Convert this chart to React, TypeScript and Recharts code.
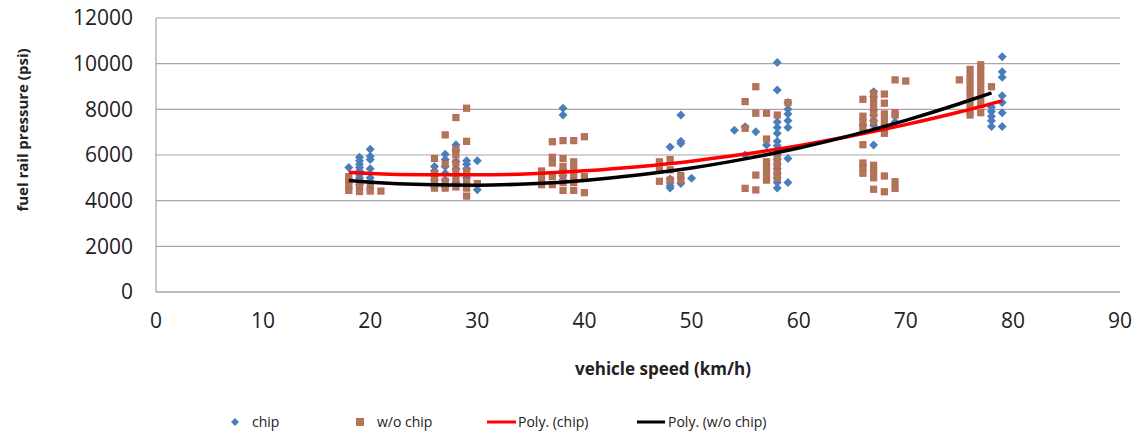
import { CartesianGrid, Legend, Scatter, ScatterChart, XAxis, YAxis } from 'recharts';

const FONT = '"Open Sans", "Liberation Sans", sans-serif';

const C = {
  chip: '#4A7EBB',
  sinChipRelleno: '#9E8052',
  sinChipBorde: '#C8605C',
  polyChip: '#FF0000',
  polySinChip: '#000000',
  grid: '#A6A6A6',
  texto: '#222222',
};

// speed (km/h) -> pressure readings (psi) at that speed
const chipPoints: [number, number[]][] = [
  [18, [5450]],
  [19, [5900, 5750, 5600, 5450, 5300, 5150, 5000, 4850, 4700]],
  [20, [6250, 5950, 5800, 5400, 5000, 4850]],
  [26, [5500, 5300, 5100, 4900, 4700, 4600]],
  [27, [6030, 5800, 5500, 5200, 4900, 4600]],
  [28, [6450, 6200, 5700, 5400, 5100, 4800]],
  [29, [5750, 5600, 5400, 5000, 4700]],
  [30, [5750, 4480]],
  [38, [8050, 7750, 5350, 5100, 4900]],
  [39, [5250]],
  [48, [6350, 4950, 4800, 4650, 4550]],
  [49, [7750, 6600, 6500, 4750]],
  [50, [4980]],
  [54, [7080]],
  [55, [7240, 6000]],
  [56, [7020]],
  [57, [6440]],
  [58, [10050, 8850, 7450, 7200, 6950, 6600, 6400, 6200, 6000, 5800, 5600, 5400, 5200, 5000, 4800, 4550]],
  [59, [8300, 8000, 7800, 7500, 7200, 5850, 4800]],
  [66, [7300]],
  [67, [8770, 8560, 7970, 7750, 7500, 7300, 6440]],
  [69, [7450]],
  [78, [8100, 7900, 7700, 7500, 7250]],
  [79, [10300, 9650, 9400, 8600, 8300, 7850, 7250]],
];

const noChipPoints: [number, number[]][] = [
  [18, [5050, 4850, 4650, 4450]],
  [19, [4800, 4600, 4400]],
  [20, [4610, 4420]],
  [21, [4420]],
  [26, [5850, 5200, 4900, 4550]],
  [27, [6880, 5600, 4850, 4550]],
  [28, [7640, 6250, 6000, 5650, 5300, 4950, 4600]],
  [29, [8050, 6600, 5300, 4850, 4550, 4200]],
  [30, [4750]],
  [36, [5300, 5000, 4700]],
  [37, [6580, 5900, 5650, 5050, 4700]],
  [38, [6630, 5850, 5500, 5150, 4800, 4450]],
  [39, [6630, 5700, 5400, 5100, 4800, 4450]],
  [40, [6800, 5050, 4350]],
  [47, [5700, 5350, 4850]],
  [48, [5800, 5350, 4900]],
  [49, [5100, 4900]],
  [55, [8340, 7170, 4540]],
  [56, [8990, 7830, 5120, 4470]],
  [57, [7830, 6700, 5700, 5450, 5200, 4900]],
  [58, [7750, 5850, 5550, 5250, 4990]],
  [59, [8290]],
  [66, [8440, 7700, 7450, 7150, 6450, 5650, 5450, 5200]],
  [67, [8700, 8400, 8100, 7800, 7450, 5550, 5300, 5000, 4500]],
  [68, [8670, 8270, 7800, 7500, 7200, 6950, 5080, 4390]],
  [69, [9290, 7850, 7750, 4830, 4540]],
  [70, [9240]],
  [75, [9290]],
  [76, [9750, 9450, 9150, 8850, 8550, 8250, 7950, 7750]],
  [77, [9950, 9700, 9400, 9100, 8800, 8500, 8200, 7850]],
  [78, [8990]],
];

// trendlines
const polyChipSpeed = [18, 20, 25, 30, 35, 40, 45, 50, 55, 60, 65, 70, 75, 79];
const polyChipPressure = [5240, 5185, 5130, 5130, 5180, 5310, 5490, 5730, 6040, 6410, 6840, 7330, 7880, 8370];
const polyNoChipSpeed = [18, 20, 25, 30, 35, 40, 45, 50, 55, 60, 65, 70, 75, 78];
const polyNoChipPressure = [4880, 4810, 4705, 4680, 4740, 4885, 5120, 5430, 5830, 6305, 6870, 7515, 8245, 8720];

const xTicks = [0, 10, 20, 30, 40, 50, 60, 70, 80, 90];
const yTicks = [0, 2000, 4000, 6000, 8000, 10000, 12000];

const aplanar = (grupos: [number, number[]][]) =>
  grupos.flatMap(([x, ys]) => ys.map((y) => ({ x, y })));

const juntar = (xs: number[], ys: number[]) => xs.map((x, i) => ({ x, y: ys[i] }));

function Rombo(props: any) {
  const { cx, cy } = props;
  if (cx == null || cy == null) return <g />;
  const r = 4.5;
  return (
    <polygon
      points={`${cx},${cy - r} ${cx + r},${cy} ${cx},${cy + r} ${cx - r},${cy}`}
      fill={C.chip}
    />
  );
}

function Cuadro(props: any) {
  const { cx, cy } = props;
  if (cx == null || cy == null) return <g />;
  return (
    <rect
      x={cx - 3}
      y={cy - 3}
      width={6}
      height={6}
      fill={C.sinChipRelleno}
      stroke={C.sinChipBorde}
      strokeWidth={1.2}
    />
  );
}

const Nada = () => <g />;

function Leyenda() {
  const texto = { position: 'absolute' as const, top: 0, lineHeight: '20px' };
  return (
    <div
      style={{
        position: 'relative',
        width: 1141,
        height: 20,
        fontFamily: FONT,
        fontSize: 14,
        color: C.texto,
      }}
    >
      <svg width={10} height={20} style={{ position: 'absolute', left: 230, top: 0 }}>
        <polygon points="5,6 9,10 5,14 1,10" fill={C.chip} />
      </svg>
      <span style={{ ...texto, left: 252 }}>chip</span>
      <svg width={10} height={20} style={{ position: 'absolute', left: 355, top: 0 }}>
        <rect x={1.5} y={6.5} width={7} height={7} fill={C.sinChipRelleno} stroke={C.sinChipBorde} />
      </svg>
      <span style={{ ...texto, left: 377 }}>w/o chip</span>
      <svg width={30} height={20} style={{ position: 'absolute', left: 487, top: 0 }}>
        <line x1={0} y1={10} x2={29} y2={10} stroke={C.polyChip} strokeWidth={3} />
      </svg>
      <span style={{ ...texto, left: 518 }}>Poly. (chip)</span>
      <svg width={30} height={20} style={{ position: 'absolute', left: 637, top: 0 }}>
        <line x1={0} y1={10} x2={28} y2={10} stroke={C.polySinChip} strokeWidth={3} />
      </svg>
      <span style={{ ...texto, left: 668 }}>Poly. (w/o chip)</span>
    </div>
  );
}

export default function App() {
  const tick = { fontSize: 21, fill: C.texto, fontFamily: FONT };
  return (
    <div style={{ position: 'absolute', left: 0, top: 0, background: '#fff', fontFamily: FONT }}>
      <ScatterChart width={1141} height={432} margin={{ top: 18, right: 21, bottom: 0, left: 0 }}>
        <CartesianGrid vertical={false} stroke={C.grid} strokeWidth={1.2} />
        <XAxis
          type="number"
          dataKey="x"
          domain={[0, 90]}
          ticks={xTicks}
          height={120}
          tickLine={false}
          tickSize={0}
          tickMargin={21}
          axisLine={{ stroke: C.grid, strokeWidth: 1.2 }}
          tick={tick}
          label={{
            content: ({ viewBox }: any) => (
              <text
                x={viewBox.x + viewBox.width / 2 + 25}
                y={viewBox.y + 76}
                textAnchor="middle"
                dominantBaseline="central"
                fontFamily={FONT}
                fontSize={17}
                fontWeight="bold"
                fill={C.texto}
              >
                vehicle speed (km/h)
              </text>
            ),
          }}
        />
        <YAxis
          type="number"
          dataKey="y"
          domain={[0, 12000]}
          ticks={yTicks}
          width={156}
          tickLine={false}
          tickSize={0}
          tickMargin={23}
          axisLine={{ stroke: C.grid, strokeWidth: 1.2 }}
          tick={tick}
          label={{
            content: ({ viewBox }: any) => {
              const cx = viewBox.x + 22;
              const cy = viewBox.y + viewBox.height / 2 - 25;
              return (
                <text
                  x={cx}
                  y={cy}
                  transform={`rotate(-90 ${cx} ${cy})`}
                  textAnchor="middle"
                  dominantBaseline="central"
                  fontFamily={FONT}
                  fontSize={15}
                  fontWeight="bold"
                  fill={C.texto}
                >
                  fuel rail pressure (psi)
                </text>
              );
            },
          }}
        />
        <Legend
          verticalAlign="bottom"
          height={20}
          wrapperStyle={{ left: 0, bottom: 0, width: 1141 }}
          content={() => <Leyenda />}
        />
        <Scatter name="chip" data={aplanar(chipPoints)} shape={Rombo} isAnimationActive={false} />
        <Scatter name="w/o chip" data={aplanar(noChipPoints)} shape={Cuadro} isAnimationActive={false} />
        <Scatter
          name="Poly. (chip)"
          data={juntar(polyChipSpeed, polyChipPressure)}
          shape={Nada}
          line={{ stroke: C.polyChip, strokeWidth: 3.5 }}
          lineJointType="monotoneX"
          isAnimationActive={false}
        />
        <Scatter
          name="Poly. (w/o chip)"
          data={juntar(polyNoChipSpeed, polyNoChipPressure)}
          shape={Nada}
          line={{ stroke: C.polySinChip, strokeWidth: 3.5 }}
          lineJointType="monotoneX"
          isAnimationActive={false}
        />
      </ScatterChart>
    </div>
  );
}
